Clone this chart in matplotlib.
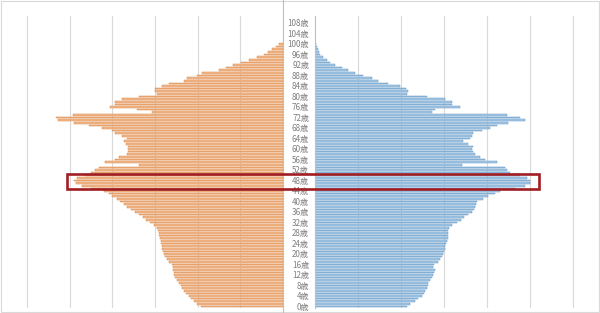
import numpy as np
import matplotlib.pyplot as plt
from matplotlib.patches import Rectangle
from matplotlib.lines import Line2D

plt.rcParams['font.family'] = ['Noto Sans CJK JP', 'DejaVu Sans']

# population by single year of age, thousands (age 0 .. 100)
ages = np.arange(0, 101)
female = [386, 405, 419, 433, 442, 456, 465, 474, 479, 488,
          498, 507, 512, 512, 516, 516, 521, 535, 544, 553,
          558, 563, 567, 567, 572, 572, 577, 581, 581, 586,
          591, 605, 623, 642, 656, 674, 693, 712, 730, 744,
          763, 777, 800, 814, 837, 902, 940, 972, 977, 963,
          930, 902, 879, 860, 674, 833, 786, 767, 730, 726,
          726, 726, 735, 744, 730, 753, 786, 800, 847, 907,
          977, 1056, 1065, 986, 614, 684, 809, 786, 786, 753,
          674, 591, 600, 600, 567, 535, 465, 451, 405, 381,
          302, 265, 233, 195, 158, 121, 88, 70, 51, 33,
          19]
male = [428, 442, 465, 479, 498, 507, 512, 521, 526, 526,
        535, 544, 549, 553, 558, 549, 553, 572, 581, 591,
        595, 600, 605, 605, 609, 614, 619, 619, 619, 619,
        623, 637, 660, 679, 693, 712, 730, 740, 744, 749,
        753, 781, 805, 837, 860, 930, 977, 1000, 1000, 986,
        953, 907, 893, 884, 684, 847, 791, 767, 744, 735,
        730, 735, 712, 688, 721, 730, 735, 777, 814, 847,
        898, 977, 953, 893, 544, 558, 674, 637, 637, 605,
        521, 428, 433, 423, 395, 340, 293, 265, 223, 186,
        153, 126, 93, 70, 56, 37, 23, 19, 14, 9,
        5]

tick_ages = list(range(0, 109, 4))
tick_labels = [f"{a}歳" for a in tick_ages]
grid_vals = [200, 400, 600, 800, 1000, 1200]

# highlighted band (ages) and its horizontal reach on each side (thousands)
box_ages = (44.6, 50.4)
box_female = 1010
box_male = 1040

fig = plt.figure(figsize=(6, 3.13), dpi=100)
ax_l = fig.add_axes([0.0093, 0.0166, 0.4623, 0.931])
ax_r = fig.add_axes([0.525, 0.0166, 0.4658, 0.931])

for ax, vals, face, edge in [(ax_l, female, '#F4BC90', '#DA8645'),
                             (ax_r, male, '#A8CAE8', '#5F93C2')]:
    ax.barh(ages, vals, height=0.62, color=face, edgecolor=edge, linewidth=0.35)
    ax.set_xlim(0, 1300)
    ax.set_ylim(-0.5, 110.5)
    ax.set_xticks(grid_vals)
    ax.grid(axis='x', color='#D9D9D9', linewidth=0.8)
    ax.set_axisbelow(True)
    ax.tick_params(length=0, labelbottom=False)
    for s in ax.spines.values():
        s.set_visible(False)

ax_l.invert_xaxis()
ax_l.set_yticks([])

ax_r.set_yticks(tick_ages, tick_labels, fontsize=5.8, color='#7F7F7F')
ax_r.tick_params(axis='y', pad=4.3)
ax_r.spines['left'].set_visible(True)
ax_r.spines['left'].set_color('#BFBFBF')
ax_r.spines['left'].set_linewidth(0.8)

# left chart border line and outer frame
xr = ax_l.get_position().x1
fig.add_artist(Line2D([xr, xr], [0, 1], transform=fig.transFigure,
                      color='#BFBFBF', linewidth=0.8))
fig.add_artist(Rectangle((0.002, 0.003), 0.996, 0.994, fill=False,
                         edgecolor='#D9D9D9', linewidth=0.8,
                         transform=fig.transFigure))

to_fig = fig.transFigure.inverted()
x0, y0 = to_fig.transform(ax_l.transData.transform((box_female, box_ages[0])))
x1, y1 = to_fig.transform(ax_r.transData.transform((box_male, box_ages[1])))
fig.add_artist(Rectangle((x0, y0), x1 - x0, y1 - y0, fill=False,
                         edgecolor='#A01D22', linewidth=1.9,
                         transform=fig.transFigure, zorder=10))

fig.savefig('out.png', dpi=100)
